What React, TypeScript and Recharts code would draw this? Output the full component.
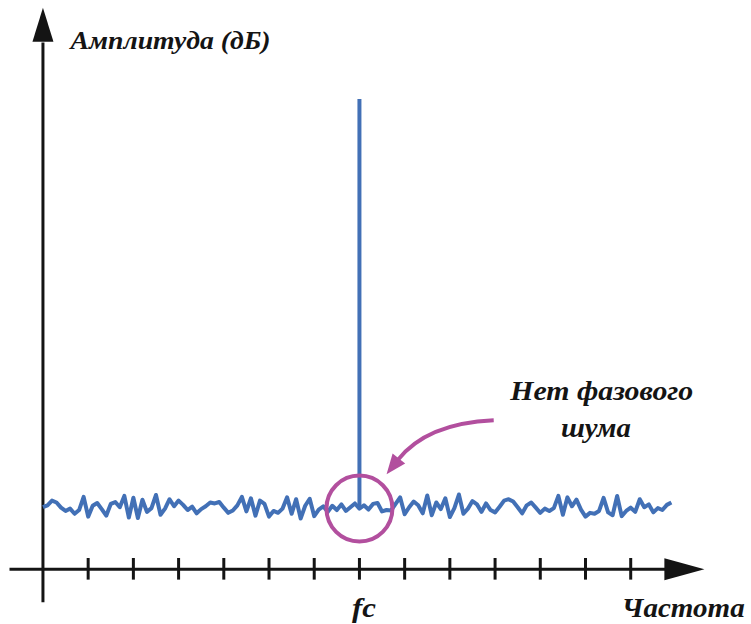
import React from "react";
import { ComposedChart, Line, ReferenceDot, ReferenceLine, XAxis, YAxis } from "recharts";

// frequency axis in tick units, amplitude in dB above the axis line
const TICKS = [1, 2, 3, 4, 5, 6, 7, 8, 9, 10, 11, 12, 13];
const CARRIER_TICK = 7;
const CARRIER_LABEL = "fc";
const CARRIER_PEAK = 100;
const CARRIER_FLOOR = 12.9;

const NOISE_START = 0;
const NOISE_STEP = 0.1;
const NOISE_DB = [
  13.2, 13.6, 14.6, 14.2, 13.1, 12.4, 12.9, 11.8, 12.6, 15.4,
  11.2, 13.5, 14.1, 12.8, 11.4, 13.9, 14.3, 13.2, 15.6, 11.0,
  15.2, 10.9, 14.8, 12.2, 13.0, 15.8, 11.6, 12.9, 14.9, 13.4,
  14.6, 13.7, 12.6, 13.3, 11.9, 12.8, 13.4, 14.2, 14.0, 14.3,
  13.1, 12.0, 12.5, 13.6, 15.4, 12.3, 15.1, 11.4, 14.6, 13.9,
  11.2, 12.4, 12.0, 12.9, 15.3, 11.8, 14.9, 10.8, 13.5, 15.0,
  11.3, 12.7, 13.4, 12.2, 13.5, 12.6, 13.8, 12.4, 13.2, 14.0,
  12.9, 13.6, 12.7, 13.9, 14.1, 12.3, 12.6, 12.5, 13.9, 15.3,
  11.7, 13.2, 14.4, 13.6, 11.9, 15.7, 11.5, 14.2, 12.8, 15.1,
  11.1, 13.0, 15.9, 11.8, 12.9, 14.5, 13.8, 12.2, 14.0, 12.6,
  12.1, 13.3, 14.6, 14.9, 14.4, 13.2, 11.9, 13.6, 14.2, 13.1,
  12.0, 12.9, 12.4, 13.0, 15.6, 11.6, 15.3, 13.4, 14.8, 12.7,
  11.2, 12.0, 11.8, 12.4, 15.2, 12.1, 11.5, 15.6, 11.3, 12.4,
  13.1, 12.2, 14.9, 13.2, 13.8, 12.1, 13.0, 12.6, 13.7, 14.2,
];

const Y_TITLE = "Амплитуда (дБ)";
const X_TITLE = "Частота";
const NOTE_LINES = ["Нет фазового", "шума"];

const X_DOMAIN: [number, number] = [-0.95, 15.55];
const Y_DOMAIN: [number, number] = [-11, 120];

const BLUE = "#4270b6";
const MAGENTA = "#b24f9e";
const INK = "#141414";
const FONT = "'Liberation Serif', 'DejaVu Serif', serif";

const noiseRows = NOISE_DB.map((db, i) => ({ f: NOISE_START + i * NOISE_STEP, db }));
const carrierRows = [
  { f: CARRIER_TICK, db: CARRIER_FLOOR },
  { f: CARRIER_TICK, db: CARRIER_PEAK },
];

function textShape(label: string, anchor: "start" | "middle" | "end", size: number, width: number) {
  return (props: any) => (
    <text
      x={props.cx}
      y={props.cy}
      textAnchor={anchor}
      fontFamily={FONT}
      fontWeight="bold"
      fontStyle="italic"
      fontSize={size}
      fill={INK}
      textLength={width}
      lengthAdjust="spacingAndGlyphs"
    >
      {label}
    </text>
  );
}

function CurvedArrow(props: any) {
  const { x1, y1, x2, y2 } = props;
  const cx = x2 + 40;
  const cy = y1 + 3;
  const dx = x2 - cx;
  const dy = y2 - cy;
  const len = Math.hypot(dx, dy) || 1;
  const ux = dx / len;
  const uy = dy / len;
  const bx = x2 - ux * 20;
  const by = y2 - uy * 20;
  const px = -uy * 8;
  const py = ux * 8;
  return (
    <g>
      <path d={`M${x1},${y1} Q${cx},${cy} ${bx + ux * 2},${by + uy * 2}`} fill="none" stroke={MAGENTA} strokeWidth={4} />
      <polygon points={`${x2},${y2} ${bx + px},${by + py} ${bx - px},${by - py}`} fill={MAGENTA} />
    </g>
  );
}

export default function App() {
  return (
    <div style={{ position: "absolute", left: 0, top: 0, width: 751, height: 624, background: "#fff" }}>
      <ComposedChart width={751} height={624} margin={{ top: 5, right: 5, bottom: 3, left: 0 }}>
        <XAxis hide type="number" dataKey="f" domain={X_DOMAIN} allowDataOverflow />
        <YAxis hide type="number" domain={Y_DOMAIN} allowDataOverflow />

        {/* axes */}
        <ReferenceLine
          segment={[{ x: 0, y: -7 }, { x: 0, y: 112 }]}
          stroke={INK}
          strokeWidth={3}
          ifOverflow="visible"
        />
        <ReferenceDot
          x={0}
          y={119.4}
          ifOverflow="visible"
          shape={(p: any) => (
            <polygon points={`${p.cx},${p.cy} ${p.cx - 10.5},${p.cy + 34} ${p.cx + 10.5},${p.cy + 34}`} fill={INK} />
          )}
        />
        <ReferenceLine
          segment={[{ x: -0.74, y: 0 }, { x: 13.8, y: 0 }]}
          stroke={INK}
          strokeWidth={3}
          ifOverflow="visible"
        />
        <ReferenceDot
          x={14.63}
          y={0}
          ifOverflow="visible"
          shape={(p: any) => (
            <polygon points={`${p.cx},${p.cy} ${p.cx - 40},${p.cy - 11} ${p.cx - 40},${p.cy + 11}`} fill={INK} />
          )}
        />
        {TICKS.map((t) => (
          <ReferenceLine
            key={t}
            segment={[{ x: t, y: 2.4 }, { x: t, y: -2.2 }]}
            stroke={INK}
            strokeWidth={3}
            ifOverflow="visible"
          />
        ))}

        <Line
          data={noiseRows}
          dataKey="db"
          type="linear"
          stroke={BLUE}
          strokeWidth={4}
          strokeLinejoin="round"
          dot={false}
          activeDot={false}
          isAnimationActive={false}
        />
        <Line
          data={carrierRows}
          dataKey="db"
          type="linear"
          stroke={BLUE}
          strokeWidth={4}
          strokeLinecap="butt"
          dot={false}
          activeDot={false}
          isAnimationActive={false}
        />

        {/* "no phase noise" callout */}
        <ReferenceDot
          x={CARRIER_TICK}
          y={CARRIER_FLOOR}
          r={33}
          fill="none"
          stroke={MAGENTA}
          strokeWidth={4}
          ifOverflow="visible"
        />
        <ReferenceLine
          segment={[{ x: 9.97, y: 31.7 }, { x: 7.6, y: 20.2 }]}
          ifOverflow="visible"
          shape={CurvedArrow}
        />
        <ReferenceDot x={12.36} y={36} ifOverflow="visible" shape={textShape(NOTE_LINES[0], "middle", 27, 183)} />
        <ReferenceDot x={12.23} y={28.1} ifOverflow="visible" shape={textShape(NOTE_LINES[1], "middle", 27, 70)} />

        {/* labels */}
        <ReferenceDot x={0.61} y={110.6} ifOverflow="visible" shape={textShape(Y_TITLE, "start", 26, 200)} />
        <ReferenceDot x={CARRIER_TICK + 0.1} y={-10.2} ifOverflow="visible" shape={textShape(CARRIER_LABEL, "middle", 27, 24)} />
        <ReferenceDot x={12.8} y={-10.2} ifOverflow="visible" shape={textShape(X_TITLE, "start", 28, 123)} />
      </ComposedChart>
    </div>
  );
}
